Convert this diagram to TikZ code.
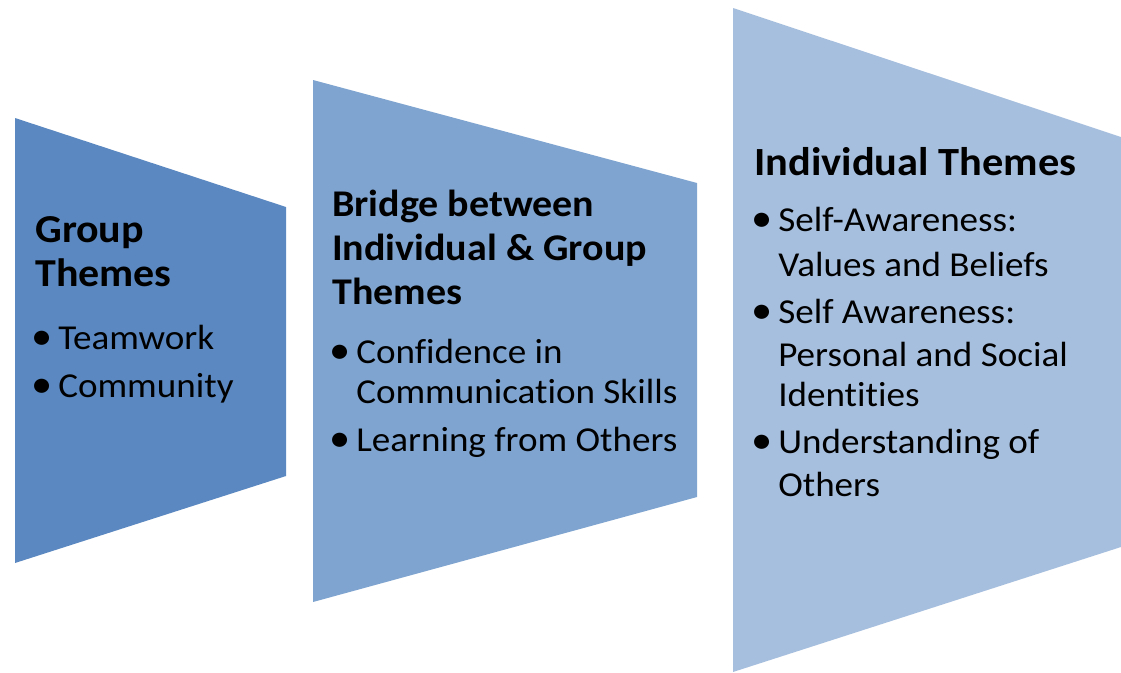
\documentclass[tikz,border=0pt]{standalone}
\usepackage{fontspec}
\setmainfont{Carlito}[FakeStretch=1.06,Ligatures=NoCommon]

\definecolor{groupblue}{RGB}{91,136,192}
\definecolor{bridgeblue}{RGB}{127,164,207}
\definecolor{indivblue}{RGB}{167,191,222}

\tikzset{
    head/.style={anchor=base west, inner sep=0pt, font=\bfseries},
    item/.style={anchor=base west, inner sep=0pt, font=\fontsize{26.25}{30}\selectfont},
    dot/.style={anchor=center, inner sep=0pt, font=\fontsize{30}{30}\selectfont},
}

\begin{document}
\begin{tikzpicture}[x=0.75pt,y=-0.75pt]
\useasboundingbox (0,0) rectangle (1121,672);

% group themes
\fill[groupblue] (15,118) -- (286,207) -- (286,476) -- (15,563) -- cycle;
\foreach \y/\t [count=\i] in {242/Group,286/Themes}
    \node[head,font=\bfseries\fontsize{29.7}{32}\selectfont] (grphead\i) at (35,\y) {\t};
\foreach \y/\t [count=\i] in {349/Teamwork,397/Community} {
    \node[dot] (grpdot\i) at (42,\y-9) {\textbullet};
    \node[item] (grpitem\i) at (58,\y) {\t};
}

% bridge between the two
\fill[bridgeblue] (313,80) -- (697,183) -- (697,497) -- (313,602) -- cycle;
\foreach \y/\t [count=\i] in {216/Bridge between,260/Individual \& Group,304/Themes}
    \node[head,font=\bfseries\fontsize{28.3}{32}\selectfont] (brghead\i) at (332,\y) {\t};
\foreach \y/\t [count=\i] in {363/Confidence in,403/Communication Skills,451/Learning from Others}
    \node[item] (brgitem\i) at (356,\y) {\t};
\foreach \y [count=\i] in {363,451}
    \node[dot] (brgdot\i) at (340,\y-9) {\textbullet};

% individual themes
\fill[indivblue] (733,8) -- (1121,137) -- (1121,547) -- (733,672) -- cycle;
\node[head,font=\bfseries\fontsize{30}{36}\selectfont] (indhead) at (754,175) {Individual Themes};
\foreach \y/\t [count=\i] in {231/Self-Awareness:,276/Values and Beliefs,323/Self Awareness:,
        366/Personal and Social,406/Identities,453/Understanding of,496/Others}
    \node[item] (inditem\i) at (778,\y) {\t};
\foreach \y [count=\i] in {231,323,453}
    \node[dot] (inddot\i) at (762,\y-9) {\textbullet};
\end{tikzpicture}
\end{document}
